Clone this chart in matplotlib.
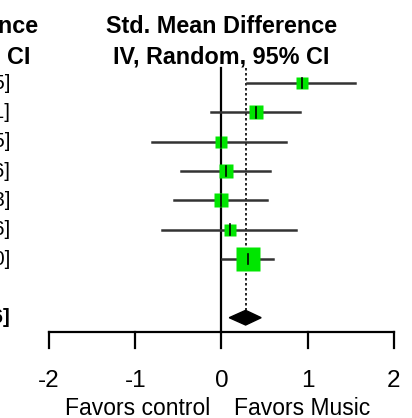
import numpy as np
import matplotlib
matplotlib.use("Agg")
import matplotlib.pyplot as plt

plt.rcParams['font.family'] = ['Liberation Sans', 'DejaVu Sans']

# study estimates (std. mean difference, 95% CI) and weights (%)
smd = [0.93, 0.40, -0.01, 0.05, -0.01, 0.10, 0.31]
lower = [0.30, -0.12, -0.80, -0.47, -0.55, -0.69, 0.01]
upper = [1.55, 0.91, 0.75, 0.56, 0.53, 0.86, 0.60]
weight = [9.1, 12.4, 7.7, 14.2, 12.4, 7.7, 36.5]
total = [0.28, 0.09, 0.46]
ticks = [-2, -1, 0, 1, 2]

fig = plt.figure(figsize=(4.12, 4.18), dpi=100)
ax = fig.add_axes([0, 0, 1, 1])
ax.set_xlim(-2.568, 2.209)
ax.set_ylim(11.42, -2.83)
ax.axis('off')

rows = np.arange(len(smd))

# zero line and pooled estimate line
ax.plot([0, 0], [-0.51, 8.49], color='black', lw=1.6)
ax.plot([total[0], total[0]], [-0.51, 7.75], color='black', lw=1.2, ls=(0, (1.5, 1.5)))

for i in rows:
    ax.plot([lower[i], upper[i]], [i, i], color='#333333', lw=1.8, zorder=2)
    side = 3.97 * np.sqrt(weight[i]) * 0.72
    ax.plot(smd[i], i, marker='s', ms=side, color='#00e600', mec='none', zorder=3)
    ax.plot([smd[i], smd[i]], [i - 0.18, i + 0.18], color='black', lw=1.2, zorder=4)
    txt = f"{smd[i]:.2f} [{lower[i]:.2f}, {upper[i]:.2f}]"
    ax.text(-2.45, i, txt, ha='right', va='center', fontsize=14.5, clip_on=False)

# pooled diamond
yd = 8.0
ax.fill([total[1], total[0], total[2], total[0]], [yd, yd - 0.25, yd, yd + 0.25],
        color='black', zorder=3)
ax.text(-2.45, yd, f"{total[0]:.2f} [{total[1]:.2f}, {total[2]:.2f}]", ha='right',
        va='center', fontsize=14.5, fontweight='bold')

# x axis
ya = 8.49
ax.plot([ticks[0], ticks[-1]], [ya, ya], color='black', lw=1.6)
for t in ticks:
    ax.plot([t, t], [ya, ya + 0.55], color='black', lw=1.6)
    ax.text(t, ya + 1.67, str(t), ha='center', va='center', fontsize=17.5)

ax.text(-0.13, 11.08, "Favors control", ha='right', va='center', fontsize=16.5)
ax.text(0.14, 11.08, "Favors Music", ha='left', va='center', fontsize=16.5)

# headers
for xc in [0, -3.47]:
    ax.text(xc, -1.94, "Std. Mean Difference", ha='center', va='center',
            fontsize=16.8, fontweight='bold')
    ax.text(xc, -0.88, "IV, Random, 95% CI", ha='center', va='center',
            fontsize=16.8, fontweight='bold')

fig.savefig('out.png', dpi=100)
